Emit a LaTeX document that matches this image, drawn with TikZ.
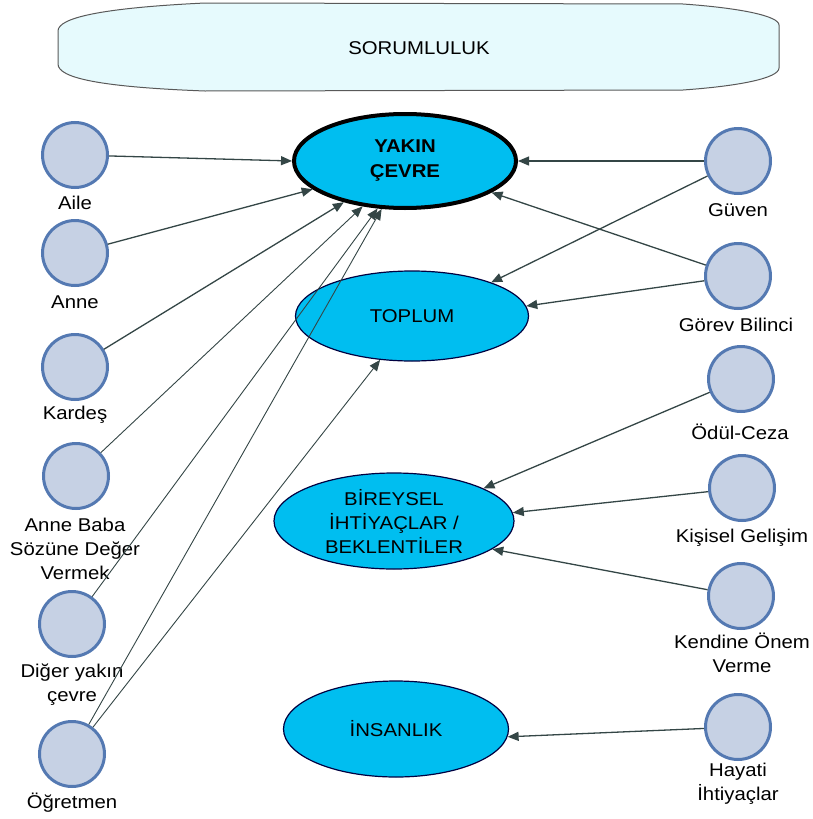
\documentclass[tikz,border=0pt]{standalone}
\usepackage{fontspec}
\setmainfont{Liberation Sans}[FakeStretch=1.1]
\usetikzlibrary{shapes.geometric,arrows.meta}

\definecolor{konuRenk}{RGB}{0,190,240}
\definecolor{kisiRenk}{RGB}{198,209,228}
\definecolor{kisiKenar}{RGB}{84,121,178}
\definecolor{okRenk}{RGB}{52,70,70}
\definecolor{ustRenk}{RGB}{230,250,253}

\tikzset{
  kisi/.style={circle, fill=kisiRenk, draw=kisiKenar, line width=3pt, minimum size=65pt, inner sep=0pt},
  konu/.style={ellipse, fill=konuRenk, draw=black!75!blue, line width=1.2pt, inner sep=0pt, align=center},
  etiket/.style={align=center, inner sep=0pt},
  ok/.style={draw=okRenk, line width=1.3pt, -{Triangle[length=11pt,width=9pt]}},
}

\begin{document}
\begin{tikzpicture}[x=1pt,y=-1pt,every node/.style={font=\fontsize{18.5}{24}\selectfont}]
\useasboundingbox (0,0) rectangle (812,819);

% ust baslik
\draw[draw=black!65, fill=ustRenk, line width=1pt]
  (58,31) .. controls (58,18) and (100,8) .. (205,3) -- (683,4)
  .. controls (740,8) and (779,16) .. (779,25) -- (779,68)
  .. controls (779,78) and (740,86) .. (683,90) -- (205,91)
  .. controls (100,87) and (58,78) .. (58,64) -- cycle;
\node (sorum) at (419,48) {SORUMLULUK};

% ana kavramlar
\node[konu, draw=black, line width=4pt, minimum width=222pt, minimum height=94pt] (yakin) at (405,161) {\textbf{YAKIN}\\[1pt]\textbf{ÇEVRE}};
\node[konu, minimum width=233pt, minimum height=90pt] (toplum) at (412,316) {TOPLUM};
\node[konu, minimum width=240pt, minimum height=96pt] (birey) at (394,521) {BİREYSEL\\İHTİYAÇLAR /\\BEKLENTİLER};
\node[konu, minimum width=225pt, minimum height=96pt] (insan) at (396,729) {İNSANLIK};

% sol taraf
\node[kisi] (aile) at (75,155) {};
\node[etiket] (aileL) at (75,203) {Aile};
\node[kisi] (anne) at (75,253) {};
\node[etiket] (anneL) at (75,302) {Anne};
\node[kisi] (kardes) at (75,367) {};
\node[etiket] (kardesL) at (75,415) {Kardeş};
\node[kisi] (soz) at (76,476) {};
\node[etiket] (sozL) at (75,549) {Anne Baba\\Sözüne Değer\\Vermek};
\node[kisi] (diger) at (72,624) {};
\node[etiket] (digerL) at (72,685) {Diğer yakın\\çevre};
\node[kisi] (ogretmen) at (72,754) {};
\node[etiket] (ogretmenL) at (72,803) {Öğretmen};

% sag taraf
\node[kisi] (guven) at (738,161) {};
\node[etiket] (guvenL) at (738,210) {Güven};
\node[kisi] (gorev) at (738,276) {};
\node[etiket] (gorevL) at (736,325) {Görev Bilinci};
\node[kisi] (odul) at (741,379) {};
\node[etiket] (odulL) at (740,432) {Ödül-Ceza};
\node[kisi] (gelisim) at (742,488) {};
\node[etiket] (gelisimL) at (742,538) {Kişisel Gelişim};
\node[kisi] (onem) at (741,596) {};
\node[etiket] (onemL) at (742,653) {Kendine Önem\\Verme};
\node[kisi] (hayati) at (738,727) {};
\node[etiket] (hayatiL) at (738,784) {Hayati\\İhtiyaçlar};

% oklar
\draw[ok] (aile) -- (yakin.180);
\draw[ok] (anne) -- (yakin.197);
\draw[ok] (kardes) -- (yakin.214);
\draw[ok, line width=0.9pt] (soz) -- (yakin.227);
\draw[ok, line width=0.9pt] (diger) -- (yakin.240);
\draw[ok, line width=0.9pt] (ogretmen) -- (yakin.244);
\draw[ok, line width=0.9pt] (ogretmen) -- (toplum.234);

\draw[ok] (guven) -- (yakin.0);
\draw[ok] (guven) -- (toplum.23);
\draw[ok] (gorev) -- (yakin.340);
\draw[ok] (gorev) -- (toplum.5);
\draw[ok] (odul) -- (birey.20);
\draw[ok] (gelisim) -- (birey.4);
\draw[ok] (onem) -- (birey.344);
\draw[ok] (hayati) -- (insan.356);
\end{tikzpicture}
\end{document}
